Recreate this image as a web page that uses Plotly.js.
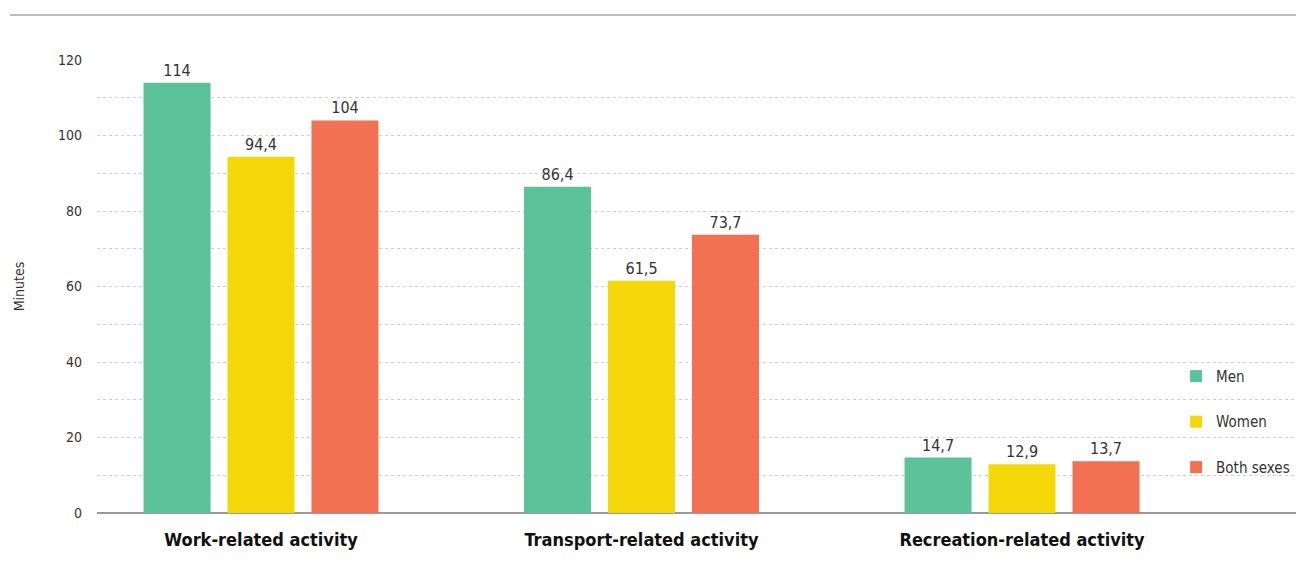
<!DOCTYPE html>
<html>
<head>
<meta charset="utf-8">
<script src="https://cdn.plot.ly/plotly-3.0.1.min.js"></script>
<style>html,body{margin:0;padding:0;background:#fff;}#chart{width:1296px;height:572px;}</style>
</head>
<body>
<div id="chart"></div>
<script>
var categories = ["Work-related activity", "Transport-related activity", "Recreation-related activity"];
var seriesNames = ["Men", "Women", "Both sexes"];
var men = [114, 86.4, 14.7];
var women = [94.4, 61.5, 12.9];
var both = [104, 73.7, 13.7];
var colors = ["#5bc29a", "#f5d80a", "#f27153"];
var yTicks = [0, 20, 40, 60, 80, 100, 120];

var FONT = '"Liberation Sans Narrow", "DejaVu Sans Condensed", "Roboto Condensed", sans-serif';
function lab(v){ return String(v).replace('.', ','); }

var series = [men, women, both];
var traces = series.map(function(vals, i){
  return {
    type: 'bar',
    name: seriesNames[i],
    x: categories,
    y: vals,
    text: vals.map(lab),
    textposition: 'outside',
    cliponaxis: false,
    textfont: {family: FONT, size: 16, color: '#333'},
    marker: {color: colors[i]},
    legendgroup: 'g' + i,
    hoverinfo: 'x+y+name'
  };
});

var layout = {
  width: 1296, height: 572,
  margin: {l: 97, r: 0, t: 60, b: 59, autoexpand: false},
  paper_bgcolor: '#fff', plot_bgcolor: '#fff',
  font: {family: FONT, color: '#333'},
  barmode: 'group',
  bargap: 0.338,
  bargroupgap: 0.202,
  showlegend: true,
  legend: {
    x: 0.9, y: 0.338, xanchor: 'left', yanchor: 'top',
    font: {family: FONT, size: 15, color: '#333'},
    traceorder: 'grouped', tracegroupgap: 23,
    bgcolor: 'rgba(0,0,0,0)'
  },
  xaxis: {
    type: 'category',
    range: [-0.431, 2.72],
    showgrid: false, zeroline: false, showline: false,
    ticks: '', ticklabelstandoff: 14,
    tickfont: {family: FONT, size: 18, color: '#111', weight: 'bold'}
  },
  yaxis: {
    range: [0, 120],
    tickvals: yTicks,
    ticktext: yTicks.map(String),
    showgrid: true, gridcolor: '#cfcfcf', griddash: 'dot', gridwidth: 1,
    minor: {dtick: 10, showgrid: true, gridcolor: '#cfcfcf', griddash: 'dot', gridwidth: 1},
    zeroline: true, zerolinecolor: '#9a9a9a', zerolinewidth: 2.5,
    showline: false, ticks: '', ticklabelstandoff: 14,
    tickfont: {family: FONT, size: 14, color: '#333'},
    title: {text: 'Minutes', standoff: 30, font: {family: FONT, size: 14, color: '#333'}}
  },
  shapes: [{
    type: 'line', xref: 'paper', yref: 'paper',
    x0: -0.0726, x1: 1, y0: 1.0993, y1: 1.0993,
    line: {color: '#bdbdbd', width: 2}
  }]
};

Plotly.newPlot('chart', traces, layout, {displayModeBar: false, staticPlot: true});
</script>
</body>
</html>
